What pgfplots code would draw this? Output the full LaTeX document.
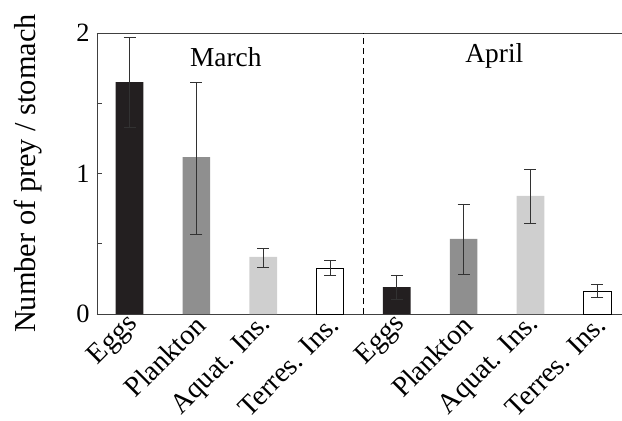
\documentclass[border=0pt]{standalone}
\usepackage{pgfplots}
\pgfplotsset{compat=1.18}
\usepackage{fontspec}
\setmainfont{Liberation Serif}
\definecolor{cblack}{RGB}{35,31,32}
\definecolor{cmid}{RGB}{143,143,143}
\definecolor{clight}{RGB}{207,207,207}
\definecolor{cerr}{RGB}{50,50,50}
\begin{document}
\begin{tikzpicture}
\begin{axis}[
  scale only axis,
  width=525bp, height=281bp,
  xmin=-0.487, xmax=7.37,
  ymin=0, ymax=2,
  axis x line=box, axis y line=left,
  axis line style={draw=black!75, line width=0.8pt, -},
  ytick={0,0.5,1,1.5,2},
  yticklabels={0,,1,,2},
  tick align=inside,
  major tick length=5bp,
  ytick style={draw=black!75, line width=0.6pt},
  xtick={0,...,7},
  xticklabels={Eggs,Plankton,Aquat. Ins.,Terres. Ins.,Eggs,Plankton,Aquat. Ins.,Terres. Ins.},
  xtick style={draw=none},
  xticklabel style={rotate=45, anchor=east, font=\fontsize{28.5}{32}\selectfont, inner sep=1bp, xshift=3bp, yshift=-4bp},
  yticklabel style={font=\fontsize{26.5}{30}\selectfont, xshift=-4bp},
  /pgf/number format/assume math mode=true,
  ylabel={Number of prey / stomach},
  ylabel style={font=\fontsize{30.5}{34}\selectfont, at={(axis description cs:-0.097,0.5)}, anchor=south},
  ybar, bar width=27.7bp,
  clip=false,
]
\addplot[ybar, bar shift=0pt, draw=none, fill=cblack,
  error bars/.cd, y dir=both, y explicit, error bar style={cerr, line width=0.7pt}, error mark options={rotate=90, mark size=6bp, cerr, line width=0.7pt}]
  coordinates {(0,1.65) +- (0,0.32) (4,0.192) +- (0,0.086)};
\addplot[ybar, bar shift=0pt, draw=none, fill=cmid,
  error bars/.cd, y dir=both, y explicit, error bar style={cerr, line width=0.7pt}, error mark options={rotate=90, mark size=6bp, cerr, line width=0.7pt}]
  coordinates {(1,1.117) += (0,0.533) -= (0,0.547) (5,0.534) += (0,0.249) -= (0,0.251)};
\addplot[ybar, bar shift=0pt, draw=none, fill=clight,
  error bars/.cd, y dir=both, y explicit, error bar style={cerr, line width=0.7pt}, error mark options={rotate=90, mark size=6bp, cerr, line width=0.7pt}]
  coordinates {(2,0.406) += (0,0.06) -= (0,0.076) (6,0.84) += (0,0.19) -= (0,0.197)};
\addplot[ybar, bar shift=0pt, draw=black, line width=0.9pt, fill=white,
  error bars/.cd, y dir=both, y explicit, error bar style={cerr, line width=0.7pt}, error mark options={rotate=90, mark size=6bp, cerr, line width=0.7pt}]
  coordinates {(3,0.325) += (0,0.057) -= (0,0.048) (7,0.164) += (0,0.048) -= (0,0.048)};
\addplot[sharp plot, black, line width=0.8pt, dash pattern=on 6bp off 4bp, forget plot] coordinates {(3.5,0) (3.5,2)};
\node[font=\fontsize{27.5}{30}\selectfont, anchor=base] at (axis cs:1.44,1.765) {March};
\node[font=\fontsize{27.5}{30}\selectfont, anchor=base] at (axis cs:5.46,1.79) {April};
\end{axis}
\pgfresetboundingbox
\path (-97bp,-107bp) rectangle (525bp,314bp);
\end{tikzpicture}
\end{document}
